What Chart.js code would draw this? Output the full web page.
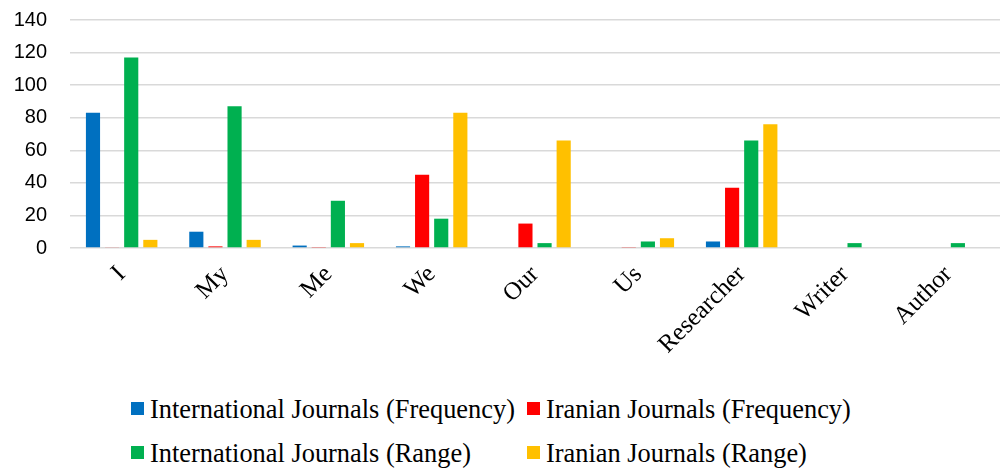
<!DOCTYPE html>
<html>
<head>
<meta charset="utf-8">
<script src="https://cdn.jsdelivr.net/npm/chart.js"></script>
<style>
  body { margin: 0; background: #fff; width: 1000px; height: 468px; overflow: hidden; position: relative; }
  #wrap { position: absolute; left: 0; top: -15px; width: 1000px; height: 400px; }
  .leg { position: absolute; display: flex; align-items: center; font-family: "Liberation Serif", "Times New Roman", serif; font-size: 26.4px; color: #000; white-space: nowrap; height: 30px; }
  .leg span.box { display: inline-block; width: 13px; height: 13px; margin-right: 6px; margin-top: -2px; }
</style>
</head>
<body>
<div id="wrap"><canvas id="chart"></canvas></div>
<div id="legend"></div>

<script>
  const categories = ['I', 'My', 'Me', 'We', 'Our', 'Us', 'Researcher', 'Writer', 'Author'];
  const intlFrequency = [83, 10, 1.5, 1, 0, 0, 4, 0, 0];
  const iranFrequency = [0.4, 1, 0.3, 45, 15, 0.6, 37, 0, 0];
  const intlRange = [117, 87, 29, 18, 3, 4, 66, 3, 3];
  const iranRange = [5, 5, 3, 83, 66, 6, 76, 0, 0];
  const yTicks = [0, 20, 40, 60, 80, 100, 120, 140];

  const series = [
    { label: 'International Journals (Frequency)', data: intlFrequency, color: '#0070C0' },
    { label: 'Iranian Journals (Frequency)', data: iranFrequency, color: '#FF0000' },
    { label: 'International Journals (Range)', data: intlRange, color: '#00B050' },
    { label: 'Iranian Journals (Range)', data: iranRange, color: '#FFC000' }
  ];

  // legend laid out in two rows like the original
  const legendPos = [[131, 394], [527, 394], [131, 438], [527, 438]];
  const legendEl = document.getElementById('legend');
  series.forEach((s, i) => {
    const d = document.createElement('div');
    d.className = 'leg';
    d.style.left = legendPos[i][0] + 'px';
    d.style.top = legendPos[i][1] + 'px';
    d.innerHTML = '<span class="box" style="background:' + s.color + '"></span>' + s.label;
    legendEl.appendChild(d);
  });

  new Chart(document.getElementById('chart'), {
    type: 'bar',
    data: {
      labels: categories,
      datasets: series.map(s => ({
        label: s.label,
        data: s.data,
        backgroundColor: s.color,
        borderWidth: 0,
        categoryPercentage: 0.74,
        barPercentage: 0.74
      }))
    },
    options: {
      responsive: true,
      maintainAspectRatio: false,
      animation: false,
      layout: { padding: { top: 5, right: 0, left: 0, bottom: 0 } },
      plugins: { legend: { display: false }, tooltip: { enabled: false } },
      scales: {
        x: {
          afterFit: axis => { axis.height = 137; },
          grid: { display: false },
          border: { display: false },
          ticks: {
            color: '#000',
            maxRotation: 45,
            minRotation: 45,
            padding: 4,
            font: { family: '"Liberation Serif", "Times New Roman", serif', size: 25 }
          }
        },
        y: {
          min: 0,
          max: 140,
          afterBuildTicks: axis => { axis.ticks = yTicks.map(v => ({ value: v })); },
          afterFit: axis => { axis.width = 70; },
          grid: { color: '#d9d9d9', lineWidth: 1.5, drawTicks: false },
          border: { display: false },
          ticks: {
            color: '#000',
            padding: 23,
            font: { family: '"Liberation Sans", Arial, sans-serif', size: 20 }
          }
        }
      }
    }
  });
</script>
</body>
</html>
